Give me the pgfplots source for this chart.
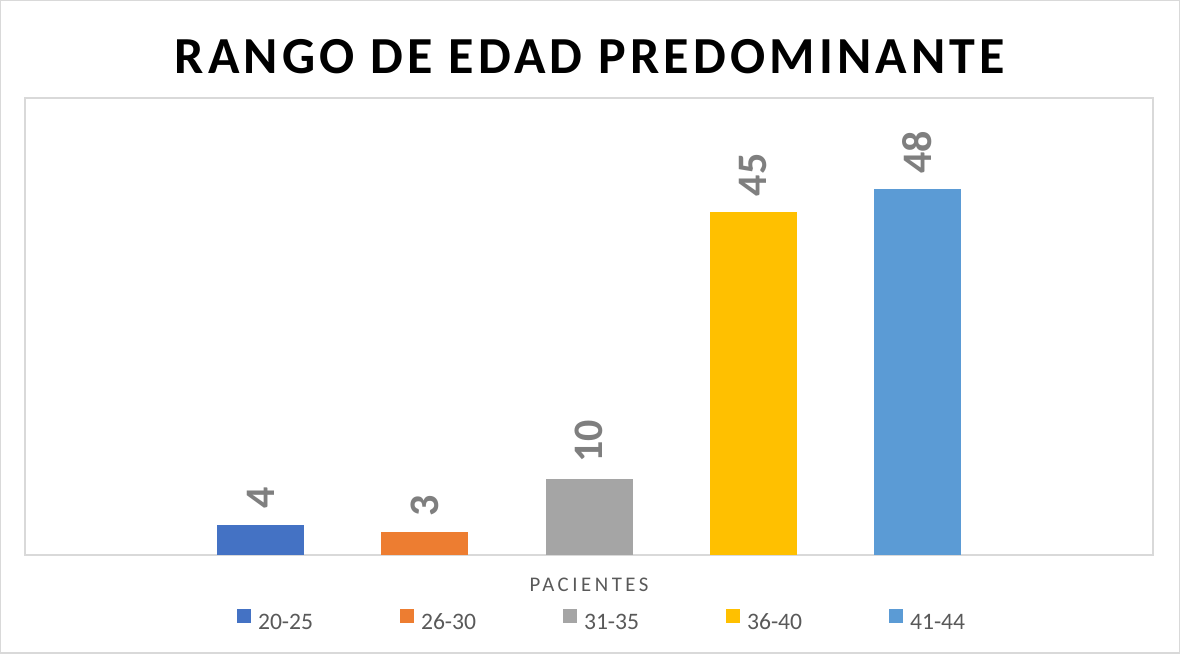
\documentclass[border=0pt]{standalone}
\usepackage{fontspec}
\setmainfont{Carlito}
\newfontfamily\titlefont[LetterSpace=8]{Carlito}
\newfontfamily\spacedfont[LetterSpace=17]{Carlito}
\usepackage{pgfplots}
\pgfplotsset{compat=1.18}
\definecolor{c1}{HTML}{4472C4}
\definecolor{c2}{HTML}{ED7D31}
\definecolor{c3}{HTML}{A5A5A5}
\definecolor{c4}{HTML}{FFC000}
\definecolor{c5}{HTML}{5B9BD5}
\definecolor{Frame}{HTML}{D9D9D9}
\definecolor{TextGray}{HTML}{595959}
\definecolor{LabelGray}{HTML}{7F7F7F}

\begin{document}
\begin{tikzpicture}
\draw[Frame, line width=0.75pt] (0.4pt,0.4pt) rectangle (589.6pt,326.6pt);
\begin{axis}[
  at={(12.5pt,49.5pt)}, anchor=south west,
  scale only axis,
  width=564pt, height=228.5pt,
  ybar,
  every axis plot post/.append style={bar shift=0pt},
  bar width=0.53,
  xmin=-0.436, xmax=6.436,
  ymin=0, ymax=60,
  xtick=\empty, ytick=\empty,
  axis line style={Frame, line width=0.75pt},
  clip=false,
  /pgf/number format/assume math mode=true,
  xlabel={\spacedfont\fontsize{10.4}{12}\selectfont PACIENTES},
  xlabel style={at={(axis description cs:0.5,-0.080)}, anchor=base, inner sep=0pt, text=TextGray},
  nodes near coords,
  every node near coord/.append style={rotate=90, anchor=west, font=\bfseries\fontsize{21}{24}\selectfont,
    text=LabelGray, inner xsep=8pt, inner ysep=0pt, outer sep=0pt},
  legend columns=5,
  legend style={draw=none, fill=none, inner sep=0pt, outer sep=0pt,
    at={(0.188,-0.1444)}, anchor=west,
    font=\fontsize{11.8}{14}\selectfont, text=TextGray,
    nodes={inner sep=0pt, text width=60pt, align=left},
    /tikz/every odd column/.append style={column sep=3.5pt},
    /tikz/every even column/.append style={column sep=11pt}},
  legend image code/.code={\fill[#1, draw=none] (0pt,0pt) rectangle (7pt,7pt);},
]
\addplot[fill=c1, draw=none] coordinates {(1,4)};
\addplot[fill=c2, draw=none] coordinates {(2,3)};
\addplot[fill=c3, draw=none] coordinates {(3,10)};
\addplot[fill=c4, draw=none] coordinates {(4,45)};
\addplot[fill=c5, draw=none] coordinates {(5,48)};
\legend{20-25,26-30,31-35,36-40,41-44}
\end{axis}
\node[anchor=base, inner sep=0pt] at (295pt,290.35pt)
  {\titlefont\bfseries\fontsize{26}{30}\selectfont RANGO DE EDAD PREDOMINANTE};
\end{tikzpicture}
\end{document}
